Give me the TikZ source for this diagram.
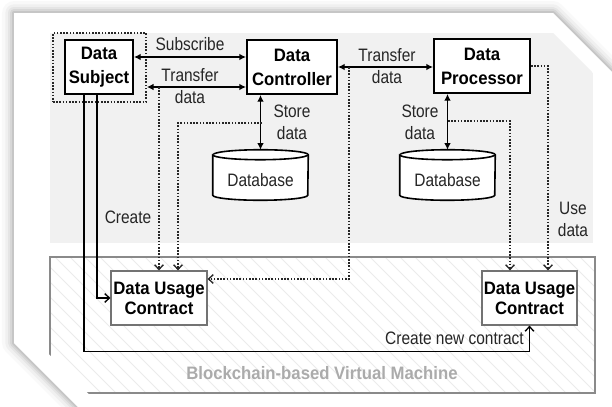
\documentclass[tikz,border=0pt]{standalone}
\usepackage{fontspec}
\setmainfont{Liberation Sans}
\newfontfamily\lbl{Liberation Sans}[FakeStretch=0.86]
\newfontfamily\bld{Liberation Sans Bold}[FakeStretch=0.93]
\usetikzlibrary{arrows.meta}
\definecolor{bggray}{HTML}{F1F1F1}
\definecolor{txtgray}{HTML}{262626}
\definecolor{bclabel}{HTML}{ABABAB}
\definecolor{bcborder}{HTML}{8A8A8A}
\definecolor{hatchc}{HTML}{EBEBEB}
\tikzset{
  party/.style={draw=black, line width=1.5pt, fill=white, align=center, inner sep=0pt,
    font=\bld\fontsize{13.5}{18}\selectfont, minimum height=40.5pt},
  contract/.style={draw=black!55, line width=0.9pt, fill=white, align=center, inner sep=0pt,
    font=\bld\fontsize{13.5}{15}\selectfont, minimum height=40.5pt, minimum width=72pt},
  dbase/.style={inner sep=0pt, minimum width=71.25pt, minimum height=37.5pt},
  cyl/.style={draw=black, line width=1.2pt, fill=white},
  lab/.style={font=\lbl\fontsize{13.5}{16.5}\selectfont, text=txtgray, align=center, inner sep=0pt},
  conn/.style={line width=1.1pt, black},
  both/.style={conn, {Latex[length=5pt,width=5pt]}-{Latex[length=5pt,width=5pt]}},
  toc/.style={conn, -{Straight Barb[length=3.5pt,width=6.5pt,line width=1pt]}},
  dots/.style={line width=1.3pt, black!85, dash pattern=on 1.2pt off 1.2pt,
    -{Straight Barb[length=3.5pt,width=6.5pt,line width=1pt]}},
  dotbox/.style={draw=black!85, line width=1.3pt, dash pattern=on 1.2pt off 1.2pt, inner sep=0pt,
    minimum width=69.75pt, minimum height=51.75pt},
}
\begin{document}
\begin{tikzpicture}[x=0.75pt,y=-0.75pt]
\useasboundingbox (0,0) rectangle (612,407);
\fill[white] (0,0) rectangle (612,407);
% page shadow
\foreach \w/\o in {18/0.025, 13/0.035, 9/0.045, 6/0.06, 3/0.08}
  \draw[line width=\w pt, black, opacity=\o, line join=round]
    (640,100) -- (612,72) -- (553,13) -- (14,13) -- (14,343) -- (78,407) -- (100,430);
\fill[white] (14,13) -- (553,13) -- (612,72) -- (612,407) -- (78,407) -- (14,343) -- cycle;

\begin{scope}
\clip (0,0) -- (520,0) -- (612,92) -- (612,407) -- (102,407) -- (0,305) -- cycle;
% upper gray area
\fill[bggray] (50,33) rectangle (593,243);
% blockchain area
\fill[white] (50,257) rectangle (595,393);
\begin{scope}
  \clip (50,257) rectangle (595,393);
  \foreach \i in {-200,-185,...,700}
    \draw[hatchc, line width=0.6pt] (\i,257) -- ++(136,136);
\end{scope}
\draw[bcborder, line width=1.2pt] (50,257) rectangle (595,393);
\node[font=\bld\fontsize{13.5}{15}\selectfont, text=bclabel, inner sep=0pt] (bclab) at (322,373) {Blockchain-based Virtual Machine};

% nodes
\node[dotbox] (subjdot) at (99.5,67.5) {};
\node[party, minimum width=51pt] (subj) at (99,67) {Data\\Subject};
\node[party, minimum width=67.5pt] (ctrl) at (292,67) {Data\\Controller};
\node[party, minimum width=72pt] (proc) at (482,66) {Data\\Processor};
\node[dbase] (dbL) at (260.5,175) {};
\node[dbase] (dbR) at (447.5,175) {};
\foreach \d in {dbL,dbR}{
  \draw[cyl] ([yshift=-3.75pt]\d.north west) -- ([yshift=3.75pt]\d.south west)
     arc(180:0:47.5 and 5) -- ([yshift=-3.75pt]\d.north east)
     arc(0:-180:47.5 and 5) -- cycle;
  \draw[cyl] ([yshift=-3.75pt]\d.north west) arc(180:0:47.5 and 5);
}
\node[lab, font=\lbl\fontsize{13.5}{15}\selectfont] (dbLt) at ([yshift=-4pt]dbL.center) {Database};
\node[lab, font=\lbl\fontsize{13.5}{15}\selectfont] (dbRt) at ([yshift=-4pt]dbR.center) {Database};
\node[contract] (cL) at (159,298) {Data Usage\\Contract};
\node[contract, minimum width=71.25pt] (cR) at (529.5,298) {Data Usage\\Contract};

% labels
\node[lab] (lsub) at (190,44) {Subscribe};
\node[lab] (ltd1) at (190,86) {Transfer\\data};
\node[lab] (ltd2) at (387,66.5) {Transfer\\data};
\node[lab] (lsd1) at (292,122) {Store\\data};
\node[lab] (lsd2) at (420,122) {Store\\data};
\node[lab] (luse) at (573,219) {Use\\data};
\node[lab] (lcr) at (128,217) {Create};
\node[lab, anchor=east] (lcnc) at (524,338) {Create new contract};

% solid connectors
\draw[both] ([yshift=7.5pt]subj.east) -- ([yshift=7.5pt]ctrl.west);
\coordinate (td) at ([yshift=-15pt]ctrl.west);
\draw[both] (subjdot.east |- td) -- (td);
\draw[both] (ctrl.east) -- (ctrl.east -| proc.west);
\draw[both] (ctrl.south -| dbL.north) -- (dbL.north);
\draw[both] (proc.south -| dbR.north) -- (dbR.north);
\draw[toc] ([xshift=-11.25pt]subj.south) |- ([yshift=-19.5pt]cR.south) -- (cR.south);
\draw[toc] ([xshift=-1.5pt]subj.south) |- (cL.west);

% dotted connectors
\coordinate (t1) at (159,87);
\coordinate (s1) at (262,123);
\coordinate (t2) at (349,67);
\coordinate (s2) at (448,121);
\draw[dots] (t1) -- (t1 |- cL.north);
\draw[dots] (s1) -| ([xshift=14.25pt]cL.north);
\draw[dots] (t2) |- ([yshift=14.25pt]cL.east);
\draw[dots] (proc.east) -| ([xshift=13.9pt]cR.north);
\draw[dots] (s2) -| ([xshift=-14.6pt]cR.north);
\end{scope}
\end{tikzpicture}
\end{document}
